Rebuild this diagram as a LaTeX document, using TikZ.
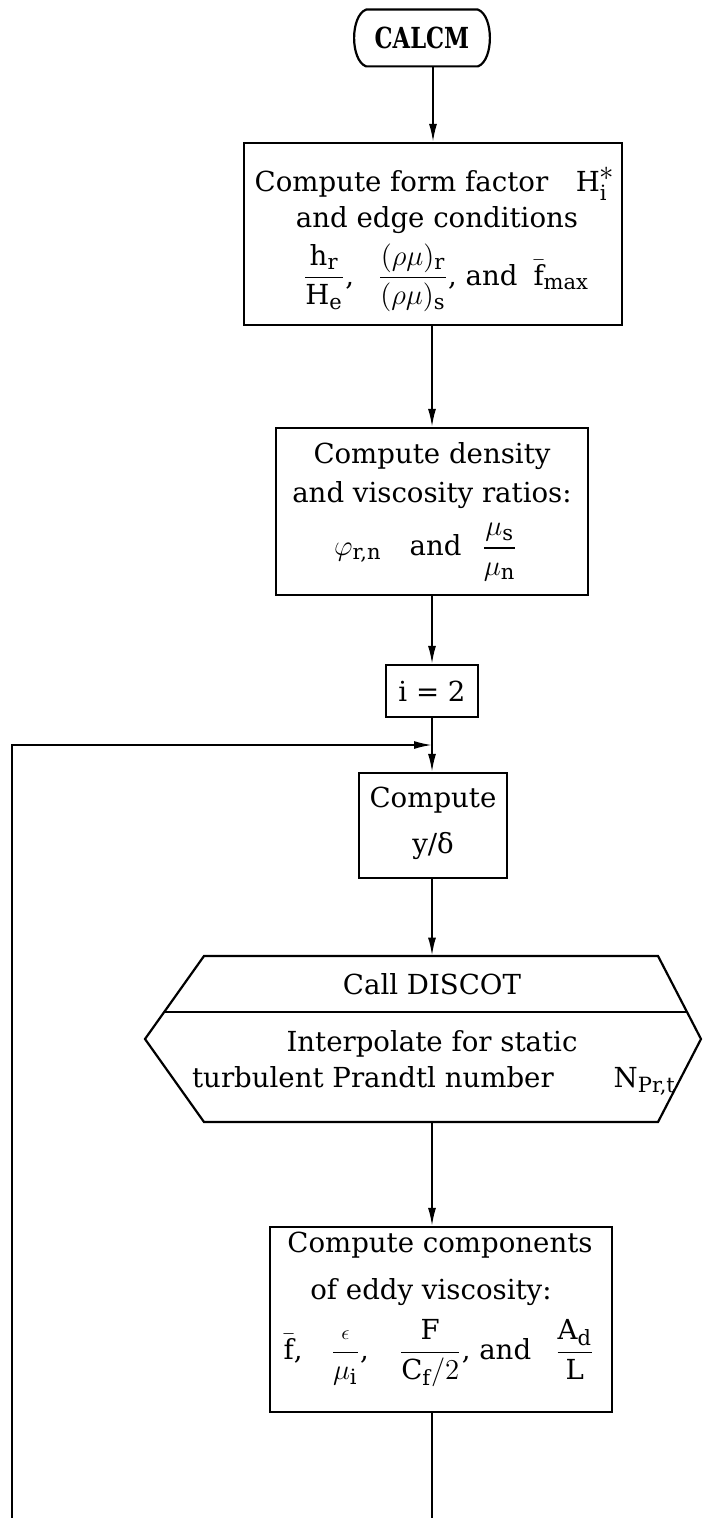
\documentclass[tikz,border=0pt]{standalone}
\usepackage{amsmath}
\usepackage{graphicx}
\usepackage{fontspec}
\setmainfont{DejaVu Serif}
\usetikzlibrary{arrows.meta}
\newcommand{\subx}[1]{_{\text{\fontsize{10.5}{11}\selectfont #1}}}
\begin{document}
\begin{tikzpicture}[x=0.5pt,y=-0.5pt,
  txt/.style={font=\fontsize{13.8}{16}\selectfont, inner sep=0pt, anchor=center},
  box/.style={draw, line width=1.1pt, inner sep=0pt, txt},
  shp/.style={line width=1.1pt},
  conn/.style={line width=0.9pt},
  arr/.style={conn, -{Latex[length=9pt,width=4pt]}}]
\useasboundingbox (0,0) rectangle (702,1518);

% terminal
\node[txt, minimum width=55.5pt, minimum height=28pt] (term) at (422,38)
  {\scalebox{0.82}[1.05]{\bfseries CALCM}};
\draw[shp] (term.north west) -- (term.north east)
  .. controls +(8pt,-3pt) and +(8pt,3pt) .. (term.south east)
  -- (term.south west)
  .. controls +(-8pt,3pt) and +(-8pt,-3pt) .. (term.north west) -- cycle;

% box 1
\node[box, minimum width=189pt, minimum height=91pt] (box1) at (433,234) {};
\node[txt] (b1a) at (435,184) {Compute form factor\quad H$^{\textstyle\ast}\subx{i}$};
\node[txt] (b1b) at (437,220) {and edge conditions};
\node[txt] (b1c) at (446,278) {$\dfrac{\text{h}\subx{r}}{\text{H}\subx{e}}$,\hspace{12pt}%
  $\dfrac{(\rho\mu)\subx{r}}{(\rho\mu)\subx{s}}$, and\hspace{8pt}$\bar{\text{f}}\subx{max}$};

% box 2
\node[box, minimum width=156pt, minimum height=83.5pt] (box2) at (432,511.5) {};
\node[txt] (b2a) at (432,456) {Compute density};
\node[txt] (b2b) at (432,495) {and viscosity ratios:};
\node[txt] (b2c) at (426,552) {$\varphi\subx{r,n}$\hspace{14pt}and\hspace{10pt}$\dfrac{\mu\subx{s}}{\mu\subx{n}}$};

% box 3
\node[box, minimum width=46pt, minimum height=26pt] (box3) at (432,691) {i = 2};

% box 4
\node[box, minimum width=74pt, minimum height=52.5pt] (box4) at (433,825.5) {};
\node[txt] (b4a) at (433,800) {Compute};
\node[txt] (b4b) at (433,846) {y/δ};

% hexagon (call DISCOT)
\node[minimum width=228pt, minimum height=83pt, inner sep=0pt] (hex) at (432,1039) {};
\draw[shp] (204,956) -- (658,956) -- (701,1039) -- (658,1122) -- (204,1122) -- (145,1039) -- cycle;
\draw[shp] (165,1012) -- (687,1012);
\node[txt] (h1) at (432,984) {Call DISCOT};
\node[txt] (h2) at (432,1044) {Interpolate for static};
\node[txt] (h3) at (434,1081) {turbulent Prandtl number\hspace{30pt}N$\subx{Pr,t}$};

% box 5
\node[box, minimum width=171pt, minimum height=92.5pt] (box5) at (441,1319.5) {};
\node[txt] (b5a) at (440,1245) {Compute components};
\node[txt] (b5b) at (431,1292) {of eddy viscosity:};
\node[txt] (b5c) at (439,1353) {$\bar{\text{f}}$,\hspace{14pt}$\dfrac{\scriptstyle\epsilon}{\mu\subx{i}}$,\hspace{15pt}%
  $\dfrac{\text{F}}{\text{C}\subx{f}/2}$, and\hspace{12pt}$\dfrac{\text{A}\subx{d}}{\text{L}}$};

% connectors
\coordinate (join) at (432,745);
\coordinate (loopbot) at (12,1518);
\coordinate (outlet) at (432,1518);
\draw[arr] (term.south -| box1.north) -- (box1.north);
\draw[arr] (box1.south -| box2.north) -- (box2.north);
\draw[arr] (box2.south -| box3.north) -- (box3.north);
\draw[arr] (box3.south) -- (box3.south |- box4.north);
\draw[arr] (loopbot) |- (join);
\draw[arr] (box4.south -| hex.north) -- (hex.north);
\draw[arr] (hex.south) -- (hex.south |- box5.north);
\draw[conn] (box5.south -| outlet) -- (outlet);
\end{tikzpicture}
\end{document}
